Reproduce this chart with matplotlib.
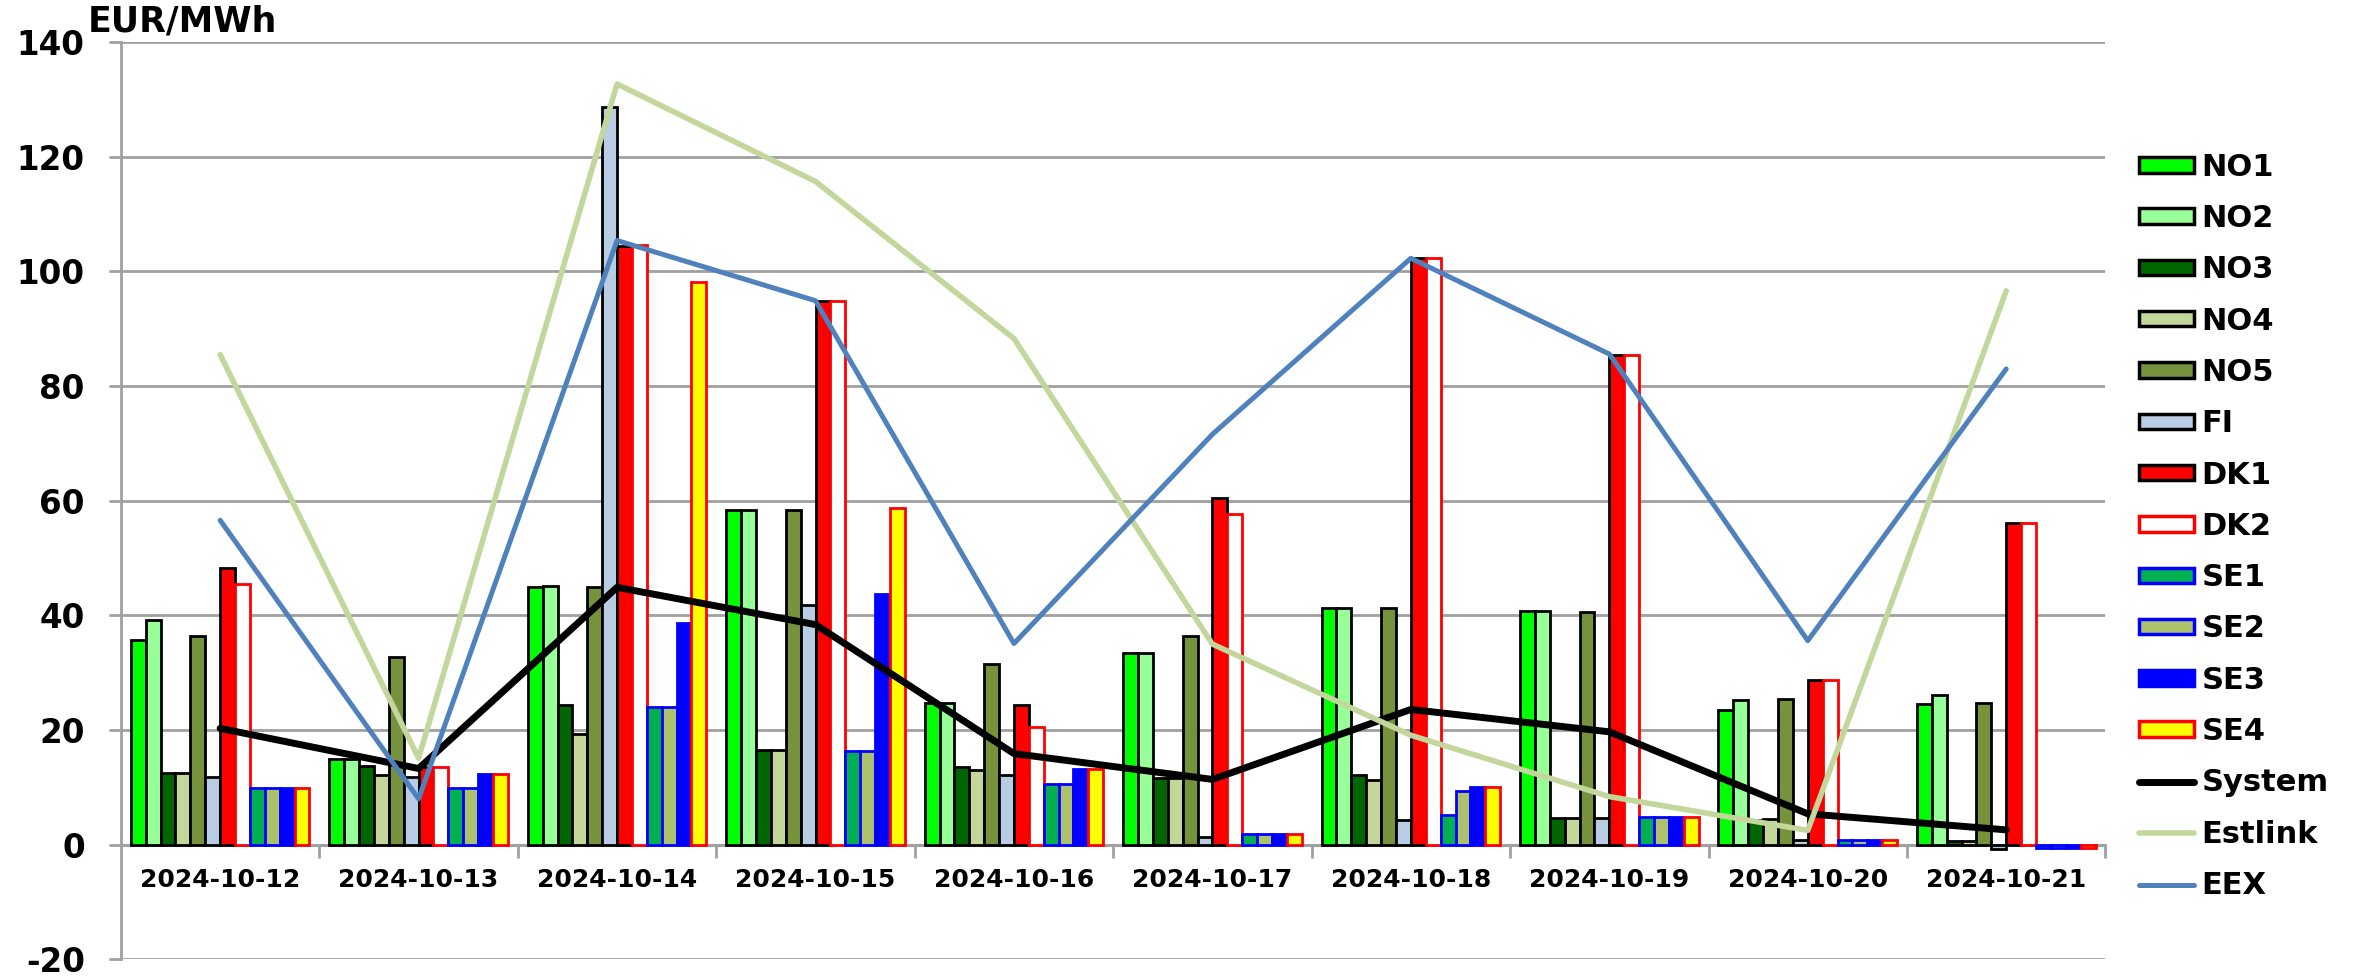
import numpy as np
import matplotlib
matplotlib.use("Agg")
import matplotlib.pyplot as plt
from matplotlib.patches import Patch
from matplotlib.lines import Line2D

# daily prices, EUR/MWh
dates = ['2024-10-12', '2024-10-13', '2024-10-14', '2024-10-15', '2024-10-16',
         '2024-10-17', '2024-10-18', '2024-10-19', '2024-10-20', '2024-10-21']

NO1 = [35.7, 15.0, 44.9, 58.4, 24.8, 33.5, 41.3, 40.7, 23.5, 24.5]
NO2 = [39.2, 14.9, 45.1, 58.4, 24.8, 33.5, 41.3, 40.7, 25.2, 26.2]
NO3 = [12.6, 13.8, 24.3, 16.5, 13.6, 11.7, 12.2, 4.7, 4.3, 0.6]
NO4 = [12.6, 12.2, 19.3, 16.5, 13.0, 11.6, 11.3, 4.7, 4.5, 0.6]
NO5 = [36.5, 32.7, 44.9, 58.4, 31.6, 36.5, 41.3, 40.6, 25.4, 24.7]
FI = [11.9, 11.9, 128.7, 41.9, 12.2, 1.3, 4.3, 4.6, 0.8, -0.8]
DK1 = [48.3, 13.6, 104.5, 94.9, 24.3, 60.4, 102.3, 85.5, 28.7, 56.2]
DK2 = [45.4, 13.6, 104.6, 94.9, 20.6, 57.7, 102.3, 85.5, 28.7, 56.2]
SE1 = [9.9, 9.9, 24.1, 16.4, 10.6, 1.9, 5.2, 4.8, 0.9, -0.5]
SE2 = [9.9, 9.9, 24.1, 16.4, 10.6, 1.9, 9.4, 4.8, 0.9, -0.5]
SE3 = [9.9, 12.3, 38.7, 43.8, 13.2, 1.9, 10.0, 4.8, 0.9, -0.5]
SE4 = [9.9, 12.3, 98.2, 58.7, 13.3, 1.9, 10.0, 4.8, 0.9, -0.5]

System = [20.3, 13.3, 44.9, 38.4, 15.9, 11.4, 23.6, 19.7, 5.4, 2.6]
Estlink = [85.5, 15.1, 132.7, 115.7, 88.3, 35.0, 19.1, 8.4, 2.5, 96.6]
EEX = [56.6, 8.0, 105.4, 94.9, 35.1, 71.6, 102.3, 85.6, 35.6, 83.0]

# (label, values, fill, edge)
bar_series = [
    ('NO1', NO1, '#00FF00', 'black'),
    ('NO2', NO2, '#99FF99', 'black'),
    ('NO3', NO3, '#006600', 'black'),
    ('NO4', NO4, '#C4D79B', 'black'),
    ('NO5', NO5, '#76923C', 'black'),
    ('FI', FI, '#B8CCE4', 'black'),
    ('DK1', DK1, '#FF0000', 'black'),
    ('DK2', DK2, '#FFFFFF', '#FF0000'),
    ('SE1', SE1, '#00B050', '#0000FF'),
    ('SE2', SE2, '#ABC26B', '#0000FF'),
    ('SE3', SE3, '#0000FF', '#0000FF'),
    ('SE4', SE4, '#FFFF00', '#FF0000'),
]
line_series = [
    ('System', System, 'black', 5.0),
    ('Estlink', Estlink, '#C3D69B', 4.0),
    ('EEX', EEX, '#4F81BD', 3.6),
]

plt.rcParams['font.family'] = ['DejaVu Sans']
plt.rcParams['font.weight'] = 'bold'
plt.rcParams['axes.unicode_minus'] = False

fig = plt.figure(figsize=(23.71, 9.8), dpi=100)
ax = fig.add_axes([0.051, 0.021, 0.837, 0.936])

x = np.arange(len(dates))
n = len(bar_series)
w = 0.9 / n
handles = []
for i, (name, vals, fc, ec) in enumerate(bar_series):
    ax.bar(x + (i - (n - 1) / 2) * w, vals, w, color=fc, edgecolor=ec,
           linewidth=2.0, zorder=3)
    handles.append(Patch(facecolor=fc, edgecolor=ec, linewidth=2.5, label=name))

for name, vals, col, lw in line_series:
    ax.plot(x, vals, color=col, linewidth=lw, zorder=4, solid_capstyle='round')
    handles.append(Line2D([0], [0], color=col, linewidth=lw, label=name,
                          solid_capstyle='round'))

ax.set_xlim(-0.5, len(dates) - 0.5)
ax.set_ylim(-20, 140)
ax.set_yticks(np.arange(-20, 141, 20))
ax.yaxis.grid(True, color='#A0A0A0', linewidth=2.0, zorder=0)
ax.set_axisbelow(True)
for lbl in ax.get_yticklabels():
    lbl.set_fontsize(23.5)
    lbl.set_fontweight('bold')
ax.tick_params(axis='y', length=9, width=2, color='#A0A0A0', pad=17)

# category axis sits on the zero line
for s in ['top', 'right']:
    ax.spines[s].set_visible(False)
ax.spines['left'].set_color('#A0A0A0')
ax.spines['left'].set_linewidth(2.0)
ax.spines['bottom'].set_position(('data', 0))
ax.spines['bottom'].set_color('#A0A0A0')
ax.spines['bottom'].set_linewidth(2.0)
ax.set_xticks(x)
ax.set_xticklabels(dates, fontsize=18, fontweight='bold')
ax.set_xticks(np.arange(0.5, len(dates), 1.0), minor=True)
ax.tick_params(axis='x', which='major', length=0, pad=17)
ax.tick_params(axis='x', which='minor', length=9, width=2, color='#A0A0A0')

fig.text(0.037, 0.978, 'EUR/MWh', fontsize=25, fontweight='bold', va='center')

fig.legend(handles=handles, loc='upper left', bbox_to_anchor=(0.893, 0.866),
           frameon=False, prop={'size': 22, 'weight': 'bold'},
           handlelength=1.8, handleheight=0.4, handletextpad=0.25,
           labelspacing=0.73, borderpad=0.2)

fig.savefig('out.png', dpi=100)
